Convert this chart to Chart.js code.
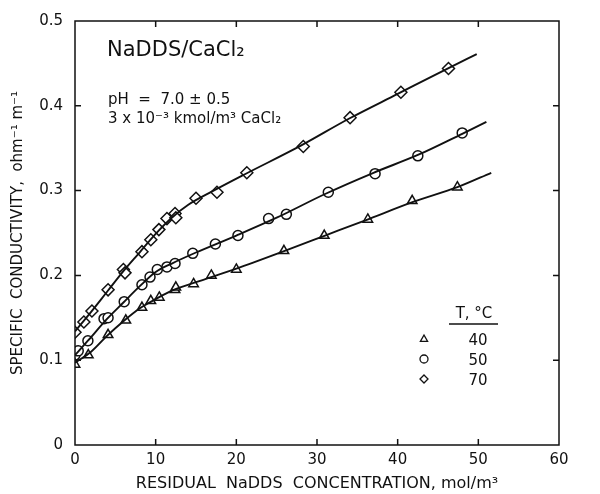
<!DOCTYPE html>
<html>
<head>
<meta charset="utf-8">
<script src="https://cdn.jsdelivr.net/npm/chart.js@4/dist/chart.umd.min.js"></script>
<style>
  html, body { margin: 0; padding: 0; background: #fff; }
  #wrap { width: 600px; height: 494px; }
</style>
</head>
<body>
<div id="wrap"><canvas id="cond"></canvas></div>
<script>
const conc40 = [0, 1.65, 4.1, 6.3, 8.3, 9.4, 10.45, 12.4, 12.5, 14.7, 16.9, 20.0, 25.9, 30.9, 36.3, 41.8, 47.4];
const cond40 = [0.095, 0.106, 0.130, 0.147, 0.162, 0.170, 0.174, 0.183, 0.186, 0.190, 0.200, 0.207, 0.229, 0.247, 0.266, 0.288, 0.304];

const conc50 = [0, 0.4, 1.6, 3.6, 4.1, 6.1, 8.3, 9.3, 10.2, 11.4, 12.4, 14.6, 17.4, 20.2, 24.0, 26.2, 31.4, 37.2, 42.5, 48.0];
const cond50 = [0.106, 0.111, 0.123, 0.149, 0.150, 0.169, 0.189, 0.198, 0.207, 0.210, 0.214, 0.226, 0.237, 0.247, 0.267, 0.272, 0.298, 0.320, 0.341, 0.368];

const conc70 = [0, 1.1, 2.1, 4.1, 6.0, 6.2, 8.3, 9.4, 10.4, 11.4, 12.4, 12.5, 15.0, 17.6, 21.3, 28.3, 34.1, 40.4, 46.3];
const cond70 = [0.133, 0.145, 0.158, 0.183, 0.207, 0.203, 0.228, 0.242, 0.254, 0.267, 0.273, 0.268, 0.291, 0.298, 0.321, 0.352, 0.386, 0.416, 0.444];

// smooth curves drawn through the data (nodes)
const fit40x = [0, 2, 4, 6, 8, 10, 12, 15, 20, 26, 31, 36, 42, 47.4, 51.6];
const fit40y = [0.097, 0.110, 0.129, 0.146, 0.161, 0.172, 0.182, 0.192, 0.208, 0.229, 0.247, 0.265, 0.287, 0.304, 0.321];
const fit50x = [0, 1.6, 4, 6, 8, 10, 12, 15, 20, 25, 31, 37, 42.5, 48, 51];
const fit50y = [0.106, 0.123, 0.149, 0.168, 0.187, 0.204, 0.214, 0.227, 0.247, 0.268, 0.296, 0.321, 0.342, 0.367, 0.381];
const fit70x = [0, 2, 4, 6, 8, 10, 12, 14, 17, 21, 28, 34, 40, 46, 49.8];
const fit70y = [0.134, 0.157, 0.181, 0.205, 0.227, 0.249, 0.268, 0.283, 0.299, 0.319, 0.353, 0.385, 0.414, 0.443, 0.461];

const xTicks = [0, 10, 20, 30, 40, 50, 60];
const yTicks = [0, 0.1, 0.2, 0.3, 0.4, 0.5];

const legendTemps = ['40', '50', '70'];
const legendStyles = ['triangle', 'circle', 'rectRot'];

const ink = '#111';
const FONT = '"DejaVu Sans", sans-serif';

function pts(xs, ys) {
  return xs.map((x, i) => ({ x: x, y: ys[i] }));
}

function curve(xs, ys) {
  return {
    data: pts(xs, ys),
    showLine: true,
    borderColor: ink,
    borderWidth: 1.9,
    pointRadius: 0,
    cubicInterpolationMode: 'monotone',
    fill: false
  };
}

function marks(xs, ys, style, r) {
  return {
    data: pts(xs, ys),
    showLine: false,
    pointStyle: style,
    pointRadius: r,
    pointBorderWidth: 1.5,
    pointBorderColor: ink,
    pointBackgroundColor: '#fff'
  };
}

function shape(ctx, style, x, y, r) {
  ctx.beginPath();
  if (style === 'triangle') {
    ctx.moveTo(x, y - r);
    ctx.lineTo(x + r * 0.9, y + r * 0.6);
    ctx.lineTo(x - r * 0.9, y + r * 0.6);
    ctx.closePath();
  } else if (style === 'circle') {
    ctx.arc(x, y, r, 0, Math.PI * 2);
  } else {
    ctx.moveTo(x, y - r);
    ctx.lineTo(x + r, y);
    ctx.lineTo(x, y + r);
    ctx.lineTo(x - r, y);
    ctx.closePath();
  }
  ctx.fillStyle = '#fff';
  ctx.fill();
  ctx.stroke();
}

const decor = {
  id: 'decor',
  afterDatasetsDraw(chart) {
    const { ctx, chartArea: a, scales: { x, y } } = chart;
    ctx.save();
    ctx.strokeStyle = ink;
    ctx.lineWidth = 1.5;
    ctx.strokeRect(a.left, a.top, a.right - a.left, a.bottom - a.top);

    // inward ticks on all four sides
    ctx.beginPath();
    xTicks.slice(1, -1).forEach(v => {
      const px = x.getPixelForValue(v);
      ctx.moveTo(px, a.bottom); ctx.lineTo(px, a.bottom - 6);
      ctx.moveTo(px, a.top); ctx.lineTo(px, a.top + 6);
    });
    yTicks.slice(1, -1).forEach(v => {
      const py = y.getPixelForValue(v);
      ctx.moveTo(a.left, py); ctx.lineTo(a.left + 6, py);
      ctx.moveTo(a.right, py); ctx.lineTo(a.right - 6, py);
    });
    ctx.stroke();

    // text annotations
    ctx.fillStyle = ink;
    ctx.textBaseline = 'alphabetic';
    ctx.textAlign = 'left';
    ctx.font = '21px ' + FONT;
    ctx.fillText('NaDDS/CaCl₂', 107, 56);
    ctx.font = '15px ' + FONT;
    ctx.fillText('pH  =  7.0 ± 0.5', 108, 104);
    ctx.fillText('3 x 10⁻³ kmol/m³ CaCl₂', 108, 123);

    // legend
    ctx.font = '15px ' + FONT;
    ctx.textAlign = 'center';
    ctx.fillText('T, °C', 474, 318);
    ctx.beginPath();
    ctx.moveTo(449, 324); ctx.lineTo(498, 324);
    ctx.stroke();
    ctx.lineWidth = 1.3;
    legendTemps.forEach((t, i) => {
      const ly = 339 + i * 20;
      shape(ctx, legendStyles[i], 424, ly, 4);
      ctx.fillStyle = ink;
      ctx.fillText(t, 478, ly + 6);
    });
    ctx.restore();
  }
};

new Chart(document.getElementById('cond'), {
  type: 'scatter',
  data: {
    datasets: [
      curve(fit40x, fit40y),
      curve(fit50x, fit50y),
      curve(fit70x, fit70y),
      marks(conc40, cond40, 'triangle', 5.5),
      marks(conc50, cond50, 'circle', 5),
      marks(conc70, cond70, 'rectRot', 6)
    ]
  },
  options: {
    responsive: true,
    maintainAspectRatio: false,
    animation: false,
    layout: { padding: { top: 15, right: 41, left: 0, bottom: 0 } },
    plugins: { legend: { display: false }, tooltip: { enabled: false } },
    scales: {
      x: {
        type: 'linear',
        min: 0, max: 60,
        afterBuildTicks: s => { s.ticks = xTicks.map(v => ({ value: v })); },
        afterFit: s => { s.height = 49; },
        grid: { display: false, drawTicks: false },
        border: { display: false },
        ticks: { color: ink, padding: 6, font: { family: FONT, size: 15 } },
        title: {
          display: true,
          text: 'RESIDUAL  NaDDS  CONCENTRATION, mol/m³',
          color: ink,
          padding: { top: 0, bottom: 1 },
          font: { family: FONT, size: 16 }
        }
      },
      y: {
        type: 'linear',
        min: 0, max: 0.5,
        afterBuildTicks: s => { s.ticks = yTicks.map(v => ({ value: v })); },
        afterFit: s => { s.width = 75; },
        grid: { display: false, drawTicks: false },
        border: { display: false },
        ticks: {
          color: ink, padding: 12,
          font: { family: FONT, size: 15 },
          callback: v => v === 0 ? '0' : v.toFixed(1)
        },
        title: {
          display: true,
          text: 'SPECIFIC  CONDUCTIVITY,  ohm⁻¹ m⁻¹',
          color: ink,
          padding: { top: 9, bottom: 0 },
          font: { family: FONT, size: 15 }
        }
      }
    }
  },
  plugins: [decor]
});
</script>
</body>
</html>
